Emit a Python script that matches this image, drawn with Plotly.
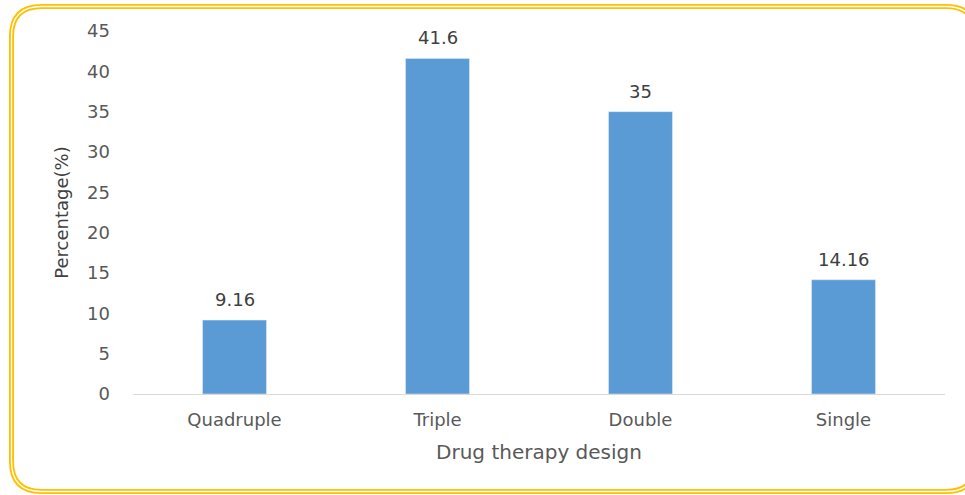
import plotly.graph_objects as go

categories = ["Quadruple", "Triple", "Double", "Single"]
values = [9.16, 41.6, 35, 14.16]
value_labels = ["9.16", "41.6", "35", "14.16"]
y_ticks = [0, 5, 10, 15, 20, 25, 30, 35, 40, 45]

W, H = 965, 495
L, R, T, B = 133, 20, 31, 101
PW, PH = W - L - R, H - T - B

def px(x):
    return (x - L) / PW

def py(y):
    return (H - B - y) / PH

def rounded_rect(x0, y0, x1, y1, r):
    pts = [
        f"M {px(x0 + r)},{py(y0)}",
        f"L {px(x1 - r)},{py(y0)}",
        f"Q {px(x1)},{py(y0)} {px(x1)},{py(y0 + r)}",
        f"L {px(x1)},{py(y1 - r)}",
        f"Q {px(x1)},{py(y1)} {px(x1 - r)},{py(y1)}",
        f"L {px(x0 + r)},{py(y1)}",
        f"Q {px(x0)},{py(y1)} {px(x0)},{py(y1 - r)}",
        f"L {px(x0)},{py(y0 + r)}",
        f"Q {px(x0)},{py(y0)} {px(x0 + r)},{py(y0)}",
        "Z",
    ]
    return " ".join(pts)

FONT = "DejaVu Sans"

fig = go.Figure()
fig.add_trace(go.Bar(
    x=categories, y=values, marker_color="#5B9BD5", width=0.315,
    hoverinfo="x+y",
))

for c, v, t in zip(categories, values, value_labels):
    fig.add_annotation(x=c, y=v, text=t, showarrow=False, yanchor="bottom",
                       yshift=8, font=dict(family=FONT, size=18, color="#404040"))

border = rounded_rect(11.5, 6.5, 976, 491.5, 30)
fig.add_shape(type="path", path=border, xref="paper", yref="paper",
              line=dict(color="#FFC000", width=5), layer="below")
fig.add_shape(type="path", path=border, xref="paper", yref="paper",
              line=dict(color="#FFFFFF", width=1.3), layer="below")

fig.update_layout(
    width=W, height=H,
    margin=dict(l=L, r=R, t=T, b=B),
    paper_bgcolor="white", plot_bgcolor="white",
    showlegend=False,
    font=dict(family=FONT, color="#595959"),
    xaxis=dict(
        showline=True, linecolor="#D9D9D9", linewidth=1,
        ticks="", tickfont=dict(size=18, color="#595959"), ticklabelstandoff=9,
        title=dict(text="Drug therapy design", font=dict(size=20, color="#595959"), standoff=16),
        showgrid=False,
    ),
    yaxis=dict(
        range=[0, 45], tickvals=y_ticks, showgrid=False, zeroline=False,
        showline=False, ticks="", tickfont=dict(size=18, color="#595959"),
        ticklabelstandoff=22,
        title=dict(text="Percentage(%)", font=dict(size=18, color="#404040"), standoff=13),
    ),
)

fig.write_html("out.html", config={"displayModeBar": False},
               post_script="document.body.style.margin='0';document.body.style.overflow='hidden';")
